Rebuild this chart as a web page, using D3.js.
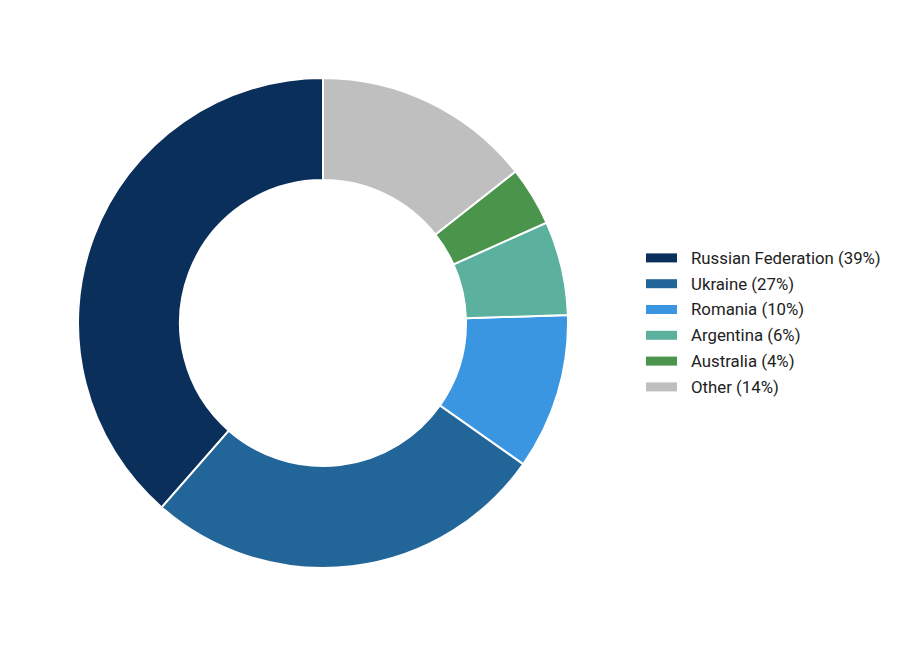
<!DOCTYPE html>
<html>
<head>
<meta charset="utf-8">
<script src="https://cdn.jsdelivr.net/npm/d3@7"></script>
<style>
    html, body { margin: 0; padding: 0; background: #fff; }
    svg { display: block; font-family: Roboto, "Noto Sans", sans-serif; }
</style>
</head>
<body>
<div id="chart"></div>
<script>
"use strict";

const countries = ["Russian Federation", "Ukraine", "Romania", "Argentina", "Australia", "Other"];
const shares = [38.6, 26.7, 10.3, 6.2, 3.9, 14.4];
const colors = ["#0b2f5b", "#226599", "#3a96e0", "#5cb09e", "#4a944c", "#bfbfbf"];

const width = 904, height = 647;
const cx = 323, cy = 323;
const outerR = 245, innerR = 143;

const svg = d3.select("#chart").append("svg")
    .attr("width", width)
    .attr("height", height);

const total = d3.sum(shares);
const data = countries.map(function (c, i) {
    return {name: c, value: shares[i], color: colors[i]};
});

// slices run anticlockwise from 12 o'clock
const pie = d3.pie()
    .sort(null)
    .value(function (d) { return d.value; })
    .startAngle(0)
    .endAngle(-2 * Math.PI);

const arc = d3.arc().innerRadius(innerR).outerRadius(outerR);

svg.append("g")
    .attr("transform", "translate(" + cx + "," + cy + ")")
    .selectAll("path")
    .data(pie(data))
    .enter()
    .append("path")
    .attr("d", arc)
    .attr("fill", function (d) { return d.data.color; })
    .attr("stroke", "#fff")
    .attr("stroke-width", 2);

const rowY = d3.scaleBand()
    .domain(countries)
    .range([245, 245 + 25.8 * countries.length]);

const legend = svg.append("g").attr("class", "legend");
const row = legend.selectAll("g")
    .data(data)
    .enter()
    .append("g")
    .attr("transform", function (d) {
        return "translate(646," + (rowY(d.name) + rowY.bandwidth() / 2) + ")";
    });

row.append("rect")
    .attr("x", 0)
    .attr("y", -4.5)
    .attr("width", 31)
    .attr("height", 9)
    .attr("fill", function (d) { return d.color; });

row.append("text")
    .attr("x", 45)
    .attr("y", 0)
    .attr("dy", "0.35em")
    .attr("font-size", 16.8)
    .attr("fill", "#222")
    .text(function (d) { return d.name + " (" + Math.round(d.value / total * 100) + "%)"; });
</script>
</body>
</html>
